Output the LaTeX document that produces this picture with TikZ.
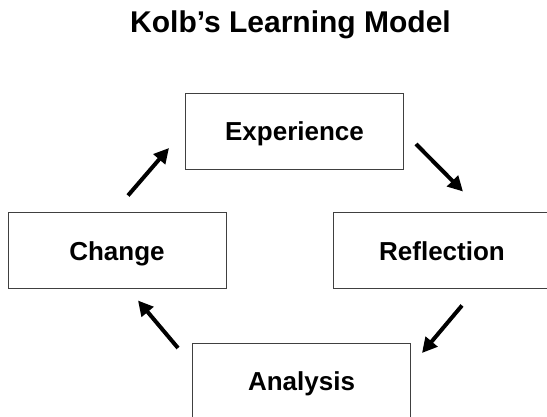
\documentclass[tikz,border=0pt]{standalone}
\usepackage{fontspec}
\setmainfont{Liberation Sans}
\usetikzlibrary{arrows.meta}
\begin{document}
\begin{tikzpicture}[x=1pt,y=-1pt,
  stagebox/.style={draw=black!75,line width=1pt,minimum width=218pt,minimum height=76pt,
    inner sep=0pt,text height=18.6pt,text depth=0pt,font=\bfseries\fontsize{26}{30}\selectfont},
  cyclearrow/.style={line width=4pt,-{Triangle[length=15pt,width=15pt]}}]
\useasboundingbox (0,0) rectangle (547,417);
\node[anchor=base,font=\bfseries\fontsize{30}{34}\selectfont] (title) at (290.5,33) {Kolb’s Learning Model};
\node[stagebox] (experience) at (294.5,131.5) {Experience};
\node[stagebox] (reflection) at (442,251) {Reflection};
\node[stagebox] (analysis) at (301.5,381) {Analysis};
\node[stagebox] (change) at (117,251) {Change};
% arrows round the cycle
\draw[cyclearrow] ([shift={(12,12.5)}]experience.east) -- ([shift={(21,-21)}]reflection.north);
\draw[cyclearrow] ([shift={(20,16)}]reflection.south) -- ([shift={(11,-28)}]analysis.east);
\draw[cyclearrow] ([shift={(-14,-33)}]analysis.west) -- ([shift={(21,11)}]change.south);
\draw[cyclearrow] ([shift={(11,-17)}]change.north) -- ([shift={(-16,16.5)}]experience.west);
\end{tikzpicture}
\end{document}
